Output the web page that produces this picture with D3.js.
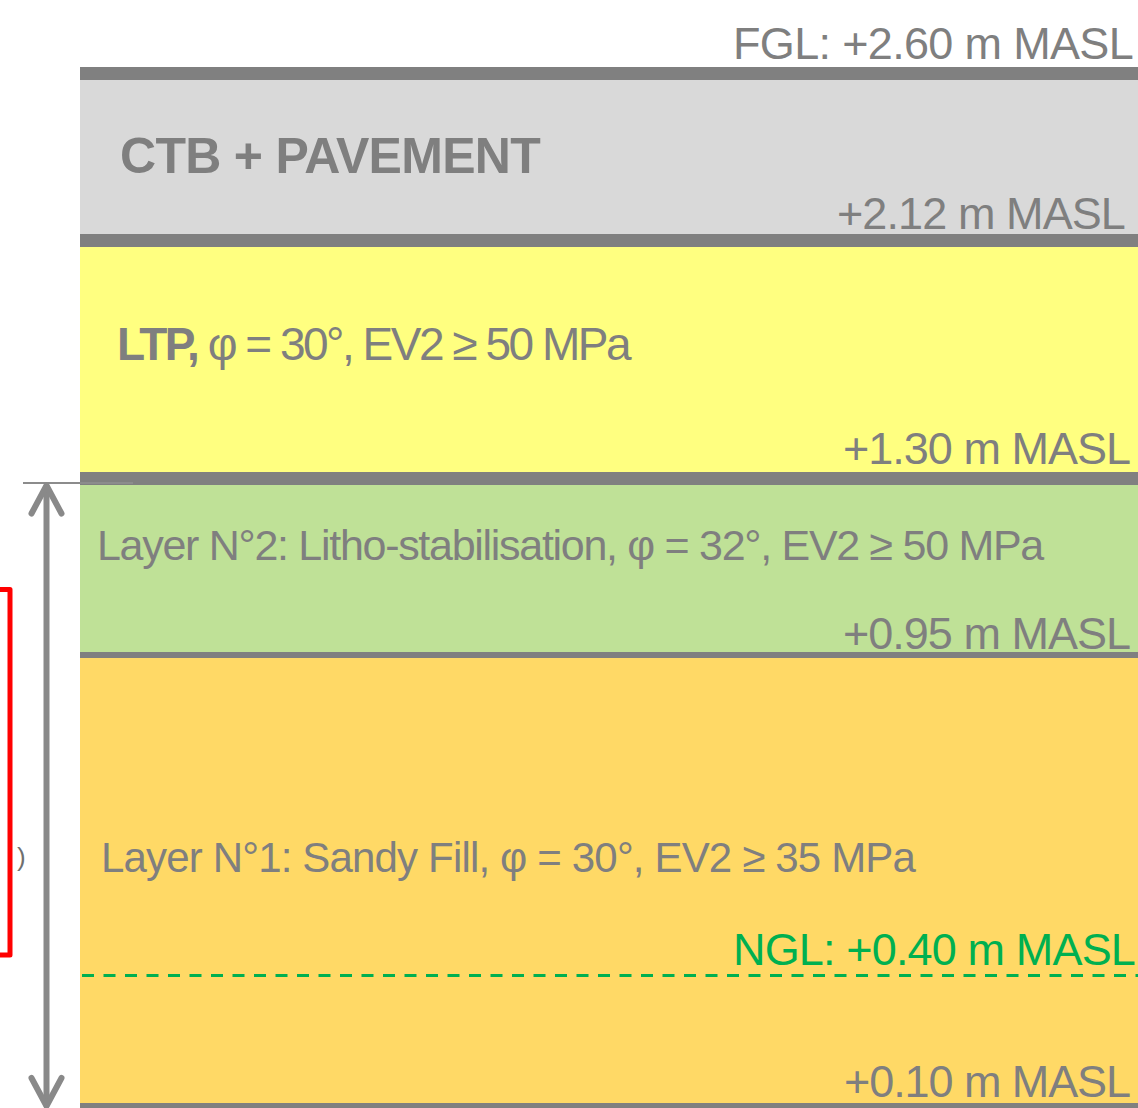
<!DOCTYPE html>
<html>
<head>
<meta charset="utf-8">
<script src="https://cdnjs.cloudflare.com/ajax/libs/d3/7.8.5/d3.min.js"></script>
<style>
  html, body { margin: 0; padding: 0; background: #fff; }
  svg { display: block; font-family: "Liberation Sans", Arial, sans-serif; }
</style>
</head>
<body>
<svg id="chart" width="1138" height="1108"></svg>
<script>
// elevations in m MASL, top to bottom
const levels = [2.60, 2.12, 1.30, 0.95, 0.10]
const levelPrefix = ["FGL: ", "", "", "", ""]
const ngl = 0.40

// layers sit between two consecutive levels
const layerNames = ["CTB + PAVEMENT", "LTP,", "Layer N°2: Litho-stabilisation,", "Layer N°1: Sandy Fill,"]
const layerPhi = [null, 30, 32, 30]
const layerEv2 = [null, 50, 50, 35]

// annotations on the left
const dimSpan = [1.30, 0.10]
const bracketSpan = [1.08, 0.435]

// ---- layout / styles ----
const width = 1138, height = 1108
const left = 80
const yRange = [73.5, 240.5, 478.5, 655, 975.5, 1106] // drawing is not to scale
const lineWidths = [13, 13, 13, 6, 6]
const layerColors = ["#d9d9d9", "#ffff80", "#bfe197", "#ffd966"]
const layerBoldName = [true, true, false, false]
const layerFont = [50, 46, 43, 42]
const layerX = [120, 117, 97, 101]
const layerDy = [99.5, 119.5, 81.5, 217]
const layerW = [420, 512, 946, 814]
const levelDy = [14.5, 11.5, 14.5, 6, 9]
const levelEnd = [1133, 1125, 1130, 1130, 1130]
const levelW = [400, 288, 287, 287, 286]
const grey = "#808080"
const textGrey = "#7f7f7f"
const green = "#00b050"

const fmt = d3.format("+.2f")

const y = d3.scaleLinear()
    .domain(levels.concat([ngl]).sort((a, b) => b - a))
    .range(yRange)

const svg = d3.select("#chart")

function fit(sel, w) {
    sel.each(function () {
        const n = this.getComputedTextLength()
        const c = this.textContent.length
        d3.select(this).attr("letter-spacing", (w - n) / c)
    })
}

// layer bands
const layers = layerNames.map((name, i) => ({i: i, name: name, top: levels[i], bottom: levels[i + 1]}))

svg.append("g").selectAll("rect")
    .data(layers)
    .enter()
    .append("rect")
    .attr("x", left)
    .attr("y", d => y(d.top))
    .attr("width", width - left)
    .attr("height", d => y(d.bottom) - y(d.top))
    .attr("fill", d => layerColors[d.i])

// NGL dashed line
svg.append("line")
    .attr("x1", left + 2)
    .attr("x2", width)
    .attr("y1", y(ngl))
    .attr("y2", y(ngl))
    .attr("stroke", green)
    .attr("stroke-width", 3)
    .attr("stroke-dasharray", "12,9.5")

// boundary lines
svg.append("g").selectAll("line")
    .data(levels)
    .enter()
    .append("line")
    .attr("x1", left)
    .attr("x2", width)
    .attr("y1", d => y(d))
    .attr("y2", d => y(d))
    .attr("stroke", grey)
    .attr("stroke-width", (d, i) => lineWidths[i])

// layer labels
const lab = svg.append("g").selectAll("text")
    .data(layers)
    .enter()
    .append("text")
    .attr("x", d => layerX[d.i])
    .attr("y", d => y(d.top) + layerDy[d.i])
    .attr("fill", textGrey)
    .attr("font-size", d => layerFont[d.i])

lab.append("tspan")
    .attr("font-weight", d => layerBoldName[d.i] ? "bold" : "normal")
    .text(d => d.name)

lab.filter(d => layerPhi[d.i] != null)
    .append("tspan")
    .text(d => " φ = " + layerPhi[d.i] + "°, EV2 ≥ " + layerEv2[d.i] + " MPa")

lab.each(function (d) { fit(d3.select(this), layerW[d.i]) })

// elevation labels
svg.append("g").selectAll("text")
    .data(levels)
    .enter()
    .append("text")
    .attr("x", (d, i) => levelEnd[i])
    .attr("y", (d, i) => y(d) - levelDy[i])
    .attr("text-anchor", "end")
    .attr("fill", textGrey)
    .attr("font-size", 45)
    .text((d, i) => levelPrefix[i] + fmt(d) + " m MASL")
    .each(function (d, i) { fit(d3.select(this), levelW[i]) })

svg.append("text")
    .attr("x", 1135)
    .attr("y", y(ngl) - 10.5)
    .attr("text-anchor", "end")
    .attr("fill", green)
    .attr("font-size", 45)
    .text("NGL: " + fmt(ngl) + " m MASL")
    .call(fit, 402)

// dimension arrow
const ax = 46.5
const yTop = y(dimSpan[0]) + 6
const yBot = y(dimSpan[1]) + 1
svg.append("line")
    .attr("x1", 23).attr("x2", 133)
    .attr("y1", yTop - 1.5).attr("y2", yTop - 1.5)
    .attr("stroke", "#8c8c8c")
    .attr("stroke-width", 2)

const arrow = svg.append("g")
    .attr("stroke", "#898989")
    .attr("stroke-width", 6)
    .attr("fill", "none")
    .attr("stroke-linecap", "round")
    .attr("stroke-linejoin", "round")

arrow.append("line")
    .attr("x1", ax).attr("x2", ax)
    .attr("y1", yTop + 2).attr("y2", yBot - 2)

arrow.append("path")
    .attr("d", d3.line()([[ax - 15, yTop + 29], [ax, yTop + 1], [ax + 15, yTop + 29]]))
arrow.append("path")
    .attr("d", d3.line()([[ax - 15, yBot - 29], [ax, yBot - 1], [ax + 15, yBot - 29]]))

// red bracket
svg.append("path")
    .attr("d", d3.line()([[-5, y(bracketSpan[0])], [10, y(bracketSpan[0])], [10, y(bracketSpan[1])], [-5, y(bracketSpan[1])]]))
    .attr("fill", "none")
    .attr("stroke", "#ff0000")
    .attr("stroke-width", 5)
    .attr("stroke-linejoin", "round")

// clipped label fragment
svg.append("text")
    .attr("x", 17)
    .attr("y", 866)
    .attr("fill", "#6f6f6f")
    .attr("font-size", 26)
    .text(")")
</script>
</body>
</html>
